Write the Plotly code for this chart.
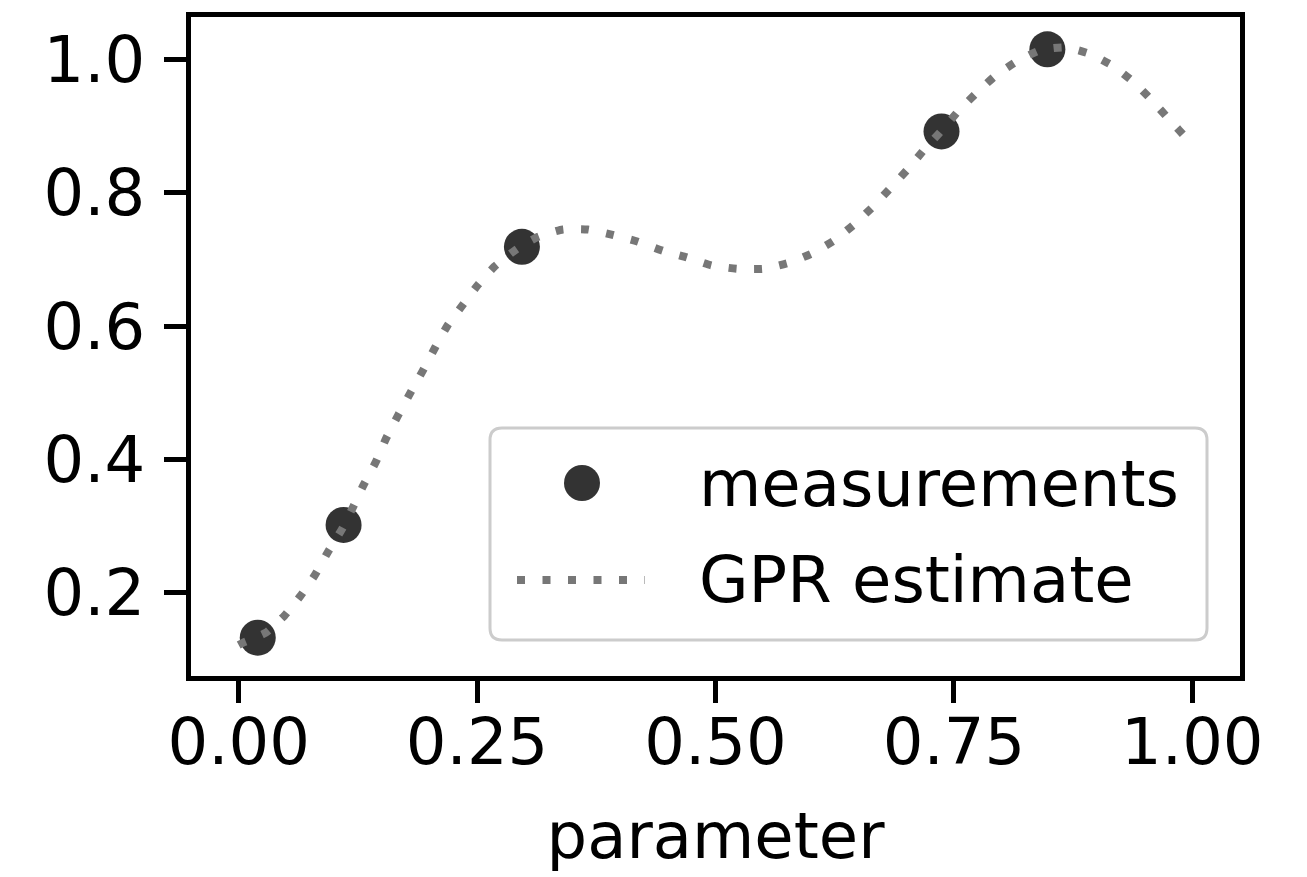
import plotly.graph_objects as go

# ---- data ----
meas_x = [0.020, 0.110, 0.297, 0.737, 0.848]
meas_y = [0.133, 0.302, 0.719, 0.892, 1.015]

gpr_x = [0.000, 0.004, 0.028, 0.048, 0.065, 0.080, 0.093, 0.108, 0.120, 0.131,
         0.144, 0.155, 0.167, 0.180, 0.193, 0.206, 0.219, 0.235, 0.251, 0.268,
         0.292, 0.314, 0.340, 0.366, 0.392, 0.418, 0.445, 0.470, 0.496, 0.523,
         0.550, 0.577, 0.601, 0.624, 0.645, 0.665, 0.684, 0.702, 0.719, 0.737,
         0.755, 0.774, 0.794, 0.816, 0.841, 0.867, 0.893, 0.918, 0.940, 0.958,
         0.977, 0.995, 1.000]
gpr_y = [0.122, 0.125, 0.140, 0.166, 0.196, 0.227, 0.260, 0.295, 0.329, 0.362,
         0.397, 0.433, 0.466, 0.500, 0.533, 0.568, 0.601, 0.632, 0.662, 0.689,
         0.716, 0.734, 0.745, 0.745, 0.737, 0.727, 0.713, 0.703, 0.691, 0.686,
         0.686, 0.695, 0.709, 0.728, 0.752, 0.779, 0.808, 0.836, 0.865, 0.893,
         0.923, 0.950, 0.976, 0.997, 1.014, 1.018, 1.008, 0.989, 0.964, 0.938,
         0.908, 0.880, 0.872]

x_ticks = [0.0, 0.25, 0.5, 0.75, 1.0]
y_ticks = [0.2, 0.4, 0.6, 0.8, 1.0]
legend_labels = ["measurements", "GPR estimate"]
x_title = "parameter"

# ---- layout geometry (pixels) ----
W, H = 1307, 877
L, R, T, B = 191, 67, 17, 201
PW, PH = W - L - R, H - T - B

def xp(px):
    return (px - L) / PW

def yp(py):
    return (H - B - py) / PH

FONT = "DejaVu Sans"
FS = 64
MARK_COLOR = "#333333"
LINE_COLOR = "#777777"
DASH = "8px,17.5px"

fig = go.Figure()
fig.add_trace(go.Scatter(x=meas_x, y=meas_y, mode="markers",
                         marker=dict(size=36, color=MARK_COLOR),
                         name=legend_labels[0], showlegend=False))
fig.add_trace(go.Scatter(x=gpr_x, y=gpr_y, mode="lines",
                         line=dict(color=LINE_COLOR, width=8, dash=DASH,
                                   shape="spline", smoothing=0.5),
                         name=legend_labels[1], showlegend=False))

# legend box (rounded), drawn as shapes + annotations
bx0, bx1, by0, by1 = 490, 1207, 428, 640
r = 12
rx, ry = r / PW, r / PH
X0, X1, Y0, Y1 = xp(bx0), xp(bx1), yp(by1), yp(by0)
path = (f"M {X0+rx},{Y0} L {X1-rx},{Y0} Q {X1},{Y0} {X1},{Y0+ry} "
        f"L {X1},{Y1-ry} Q {X1},{Y1} {X1-rx},{Y1} L {X0+rx},{Y1} "
        f"Q {X0},{Y1} {X0},{Y1-ry} L {X0},{Y0+ry} Q {X0},{Y0} {X0+rx},{Y0} Z")
shapes = [
    dict(type="path", xref="paper", yref="paper", path=path,
         line=dict(color="#cccccc", width=3), fillcolor="white", layer="above"),
    dict(type="circle", xref="paper", yref="paper",
         x0=xp(582 - 18), x1=xp(582 + 18), y0=yp(483 + 18), y1=yp(483 - 18),
         fillcolor=MARK_COLOR, line=dict(width=0), layer="above"),
    dict(type="line", xref="paper", yref="paper",
         x0=xp(517), x1=xp(645), y0=yp(580), y1=yp(580),
         line=dict(color=LINE_COLOR, width=8, dash=DASH), layer="above"),
]
annotations = [
    dict(text=legend_labels[0], xref="paper", yref="paper", x=xp(697), y=yp(484),
         xanchor="left", yanchor="middle", showarrow=False,
         font=dict(family=FONT, size=FS, color="black")),
    dict(text=legend_labels[1], xref="paper", yref="paper", x=xp(697), y=yp(580),
         xanchor="left", yanchor="middle", showarrow=False,
         font=dict(family=FONT, size=FS, color="black")),
]

axis_common = dict(showline=True, linecolor="black", linewidth=5, mirror=True,
                   ticks="outside", ticklen=22, tickwidth=5, tickcolor="black",
                   showgrid=False, zeroline=False,
                   tickfont=dict(family=FONT, size=FS, color="black"))

fig.update_layout(
    width=W, height=H,
    margin=dict(l=L, r=R, t=T, b=B, pad=0),
    paper_bgcolor="white", plot_bgcolor="white",
    showlegend=False,
    font=dict(family=FONT, size=FS, color="black"),
    xaxis=dict(range=[-0.05, 1.05], tickvals=x_ticks, tickformat=".2f",
               ticklabelstandoff=-16,
               title=dict(text=x_title, font=dict(family=FONT, size=FS), standoff=37),
               **axis_common),
    yaxis=dict(range=[0.0755, 1.0635], tickvals=y_ticks, tickformat=".1f",
               ticklabelstandoff=6,
               **axis_common),
    shapes=shapes, annotations=annotations,
)

fig.write_html("out.html")
